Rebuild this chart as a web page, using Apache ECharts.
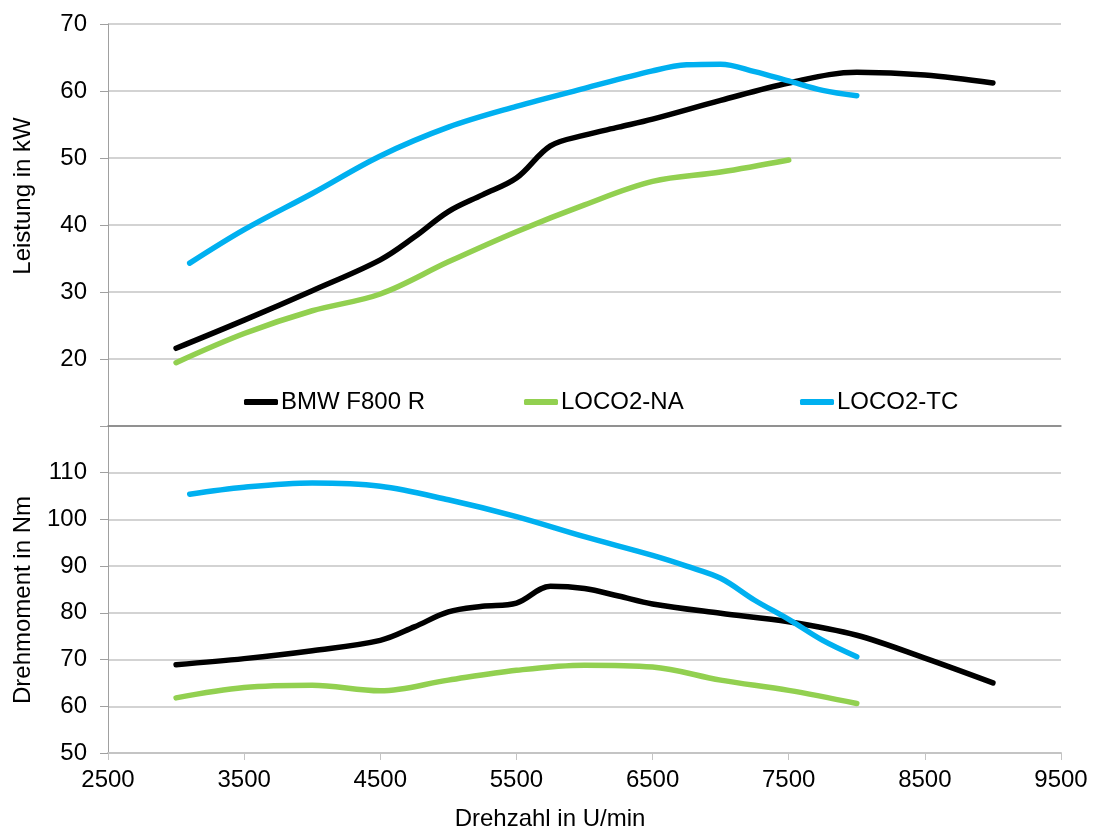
<!DOCTYPE html>
<html>
<head>
<meta charset="utf-8">
<script src="https://cdn.jsdelivr.net/npm/echarts@6/dist/echarts.min.js"></script>
<style>html,body{margin:0;padding:0;background:#fff;}#c{width:1094px;height:832px;}</style>
</head>
<body>
<div id="c"></div>
<script>
// --- data ---
var xTicks = [2500, 3500, 4500, 5500, 6500, 7500, 8500, 9500];

var bmwRpm    = [3000, 3500, 4000, 4500, 4750, 5000, 5250, 5500, 5750, 6000, 6250, 6500, 7000, 7500, 8000, 8500, 9000];
var bmwPower  = [21.6, 25.8, 30.2, 34.8, 38.2, 42.0, 44.5, 47.0, 51.8, 53.4, 54.6, 55.8, 58.6, 61.2, 62.8, 62.4, 61.2];
var bmwTorque = [68.9, 70.2, 71.9, 74.1, 77.0, 80.2, 81.4, 82.1, 85.7, 85.2, 83.6, 81.9, 79.9, 78.1, 75.2, 70.3, 65.0];

var naPowerRpm  = [3000, 3500, 4000, 4500, 5000, 5500, 6000, 6500, 7000, 7500];
var naPower     = [19.45, 23.8, 27.2, 29.7, 34.5, 39.0, 43.0, 46.5, 47.9, 49.7];
var naTorqueRpm = [3000, 3500, 4000, 4500, 5000, 5500, 6000, 6500, 7000, 7500, 8000];
var naTorque    = [61.8, 64.0, 64.5, 63.3, 65.6, 67.7, 68.8, 68.4, 65.6, 63.4, 60.6];

var tcRpm    = [3100, 3500, 4000, 4500, 5000, 5500, 6000, 6500, 6750, 7000, 7250, 7500, 7750, 8000];
var tcPower  = [34.3, 39.3, 44.7, 50.3, 54.6, 57.7, 60.4, 63.0, 63.9, 64.0, 62.9, 61.5, 60.1, 59.3];
var tcTorque = [105.4, 106.9, 107.8, 107.1, 104.2, 100.6, 96.3, 92.3, 90.0, 87.4, 82.7, 78.6, 74.1, 70.6];

var names = ['BMW F800 R', 'LOCO2-NA', 'LOCO2-TC'];
var colors = ['#000000', '#92d050', '#00b0f0'];

function pairs(xs, ys) { return xs.map(function (x, i) { return [x, ys[i]]; }); }

var FONT = 'Liberation Sans, Arial, sans-serif';
var chart = echarts.init(document.getElementById('c'), null, { renderer: 'canvas' });

function lineSeries(name, color, xIdx, yIdx, data) {
  return {
    name: name, type: 'line', xAxisIndex: xIdx, yAxisIndex: yIdx,
    data: data, smooth: 0.35, symbol: 'none', color: color,
    lineStyle: { width: 5.5, color: color, cap: 'round', join: 'round' },
    emphasis: { disabled: true }, animation: false
  };
}

function legendAt(left, name) {
  return {
    data: [name], left: left, top: 390, padding: 0, itemGap: 0,
    icon: 'roundRect', itemWidth: 34, itemHeight: 6,
    textStyle: { fontSize: 24, fontFamily: FONT, color: '#000', padding: [0, 0, 0, -2] },
    selectedMode: false
  };
}

var option = {
  backgroundColor: '#ffffff',
  animation: false,
  legend: [legendAt(244, names[0]), legendAt(524, names[1]), legendAt(800, names[2])],
  grid: [
    { left: 108, right: 33, top: 24, height: 402 },
    { left: 108, right: 33, top: 426, height: 327 }
  ],
  xAxis: [
    { type: 'value', gridIndex: 0, min: 2500, max: 9500, interval: 1000,
      axisLine: { show: true, onZero: false, lineStyle: { color: '#7f7f7f', width: 1.5 } },
      axisTick: { show: false }, axisLabel: { show: false }, splitLine: { show: false } },
    { type: 'value', gridIndex: 1, min: 2500, max: 9500, interval: 1000,
      axisLine: { show: true, onZero: false, lineStyle: { color: '#c4c4c4', width: 2 } },
      axisTick: { show: true, length: 7, lineStyle: { color: '#c4c4c4', width: 1 } },
      axisLabel: { fontSize: 24, fontFamily: FONT, color: '#000', margin: 15,
        formatter: function (v) { return xTicks.indexOf(v) >= 0 ? String(v) : ''; } },
      splitLine: { show: false } }
  ],
  yAxis: [
    { type: 'value', gridIndex: 0, min: 10, max: 70, interval: 10,
      axisLine: { show: true, lineStyle: { color: '#a0a0a0', width: 1 } },
      axisTick: { show: true, length: 8, lineStyle: { color: '#a0a0a0' } },
      axisLabel: { fontSize: 24, fontFamily: FONT, color: '#000', margin: 21,
        formatter: function (v) { return v === 10 ? '' : String(v); } },
      splitLine: { show: true, lineStyle: { color: '#c4c4c4', width: 1.5 } } },
    { type: 'value', gridIndex: 1, min: 50, max: 120, interval: 10,
      axisLine: { show: true, lineStyle: { color: '#a0a0a0', width: 1 } },
      axisTick: { show: true, length: 8, lineStyle: { color: '#a0a0a0' } },
      axisLabel: { fontSize: 24, fontFamily: FONT, color: '#000', margin: 21,
        formatter: function (v) { return v === 120 ? '' : String(v); } },
      splitLine: { show: true, lineStyle: { color: '#c4c4c4', width: 1.5 } } }
  ],
  graphic: [
    { type: 'text', x: 23, y: 196, rotation: Math.PI / 2, silent: true,
      style: { text: 'Leistung in kW', fontSize: 24, fontFamily: FONT, fill: '#000',
        align: 'center', verticalAlign: 'middle', textAlign: 'center', textVerticalAlign: 'middle' } },
    { type: 'text', x: 23, y: 600, rotation: Math.PI / 2, silent: true,
      style: { text: 'Drehmoment in Nm', fontSize: 24, fontFamily: FONT, fill: '#000',
        align: 'center', verticalAlign: 'middle', textAlign: 'center', textVerticalAlign: 'middle' } },
    { type: 'text', x: 550, y: 819, silent: true,
      style: { text: 'Drehzahl in U/min', fontSize: 24, fontFamily: FONT, fill: '#000',
        align: 'center', verticalAlign: 'middle', textAlign: 'center', textVerticalAlign: 'middle' } }
  ],
  series: [
    lineSeries(names[0], colors[0], 0, 0, pairs(bmwRpm, bmwPower)),
    lineSeries(names[1], colors[1], 0, 0, pairs(naPowerRpm, naPower)),
    lineSeries(names[2], colors[2], 0, 0, pairs(tcRpm, tcPower)),
    lineSeries(names[0], colors[0], 1, 1, pairs(bmwRpm, bmwTorque)),
    lineSeries(names[1], colors[1], 1, 1, pairs(naTorqueRpm, naTorque)),
    lineSeries(names[2], colors[2], 1, 1, pairs(tcRpm, tcTorque))
  ]
};
chart.setOption(option);
</script>
</body>
</html>
